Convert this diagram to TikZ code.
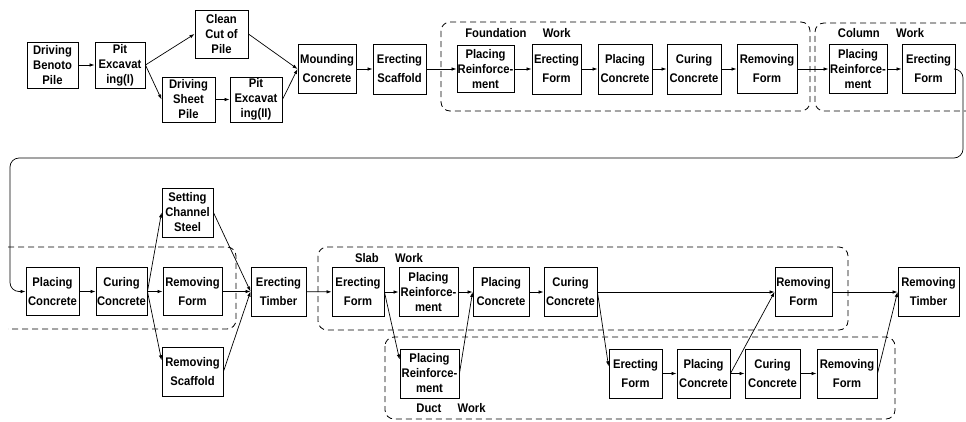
\documentclass[tikz,border=0pt]{standalone}
\usepackage{fontspec}
\setmainfont{Liberation Sans}[FakeStretch=0.9]
\usetikzlibrary{arrows.meta}
\begin{document}
\begin{tikzpicture}[x=1pt,y=-1pt,
  box/.style={draw, line width=0.9pt, inner sep=0pt, align=center, font=\bfseries\fontsize{12.5}{15}\selectfont},
  box2/.style={box, font=\bfseries\fontsize{12.5}{19}\selectfont},
  arr/.style={line width=0.7pt, -{Latex[length=5pt,width=3.5pt]}},
  dbox/.style={line width=0.8pt, dash pattern=on 6pt off 4pt, rounded corners=9pt},
  lbl/.style={font=\bfseries\fontsize{12.5}{14}\selectfont, inner sep=0pt}]
\useasboundingbox (0,0) rectangle (966,421);

% dashed group boxes
\draw[dbox] (441,22) rectangle (810,111);
\draw[dbox] (966,23) -- (815,23) -- (815,111) -- (966,111);
\draw[dbox] (8,247) -- (236,247) -- (236,329) -- (8,329);
\draw[dbox] (318,247) rectangle (848,330);
\draw[dbox] (385,337) rectangle (895,419);

\node[lbl] (lf) at (518,33) {Foundation\hspace{1.3em}Work};
\node[lbl] (lc) at (881,33) {Column\hspace{1.3em}Work};
\node[lbl] (ls) at (389,258) {Slab\hspace{1.3em}Work};
\node[lbl] (ld) at (451,408) {Duct\hspace{1.3em}Work};

% top row
\node[box,minimum width=51pt,minimum height=46pt] (dbp) at (52.5,65) {Driving\\Benoto\\Pile};
\node[box,minimum width=50pt,minimum height=46pt] (pe1) at (120,65) {Pit\\Excavat\\ing(I)};
\node[box,minimum width=53pt,minimum height=48pt] (ccp) at (221.5,34) {Clean\\Cut of\\Pile};
\node[box,minimum width=53pt,minimum height=45pt] (dsp) at (188.5,99.5) {Driving\\Sheet\\Pile};
\node[box,minimum width=52pt,minimum height=45pt] (pe2) at (256,99.5) {Pit\\Excavat\\ing(II)};
\node[box2,minimum width=58pt,minimum height=49pt] (mc) at (327,69) {Mounding\\Concrete};
\node[box2,minimum width=53pt,minimum height=50pt] (es) at (399.5,69) {Erecting\\Scaffold};
\node[box,minimum width=57pt,minimum height=47pt] (prf) at (485.5,69) {Placing\\Reinforce-\\ment};
\node[box2,minimum width=49pt,minimum height=50pt] (eff) at (556.5,69) {Erecting\\Form};
\node[box2,minimum width=54pt,minimum height=50pt] (pcf) at (625,69) {Placing\\Concrete};
\node[box2,minimum width=54pt,minimum height=50pt] (ccf) at (694,69) {Curing\\Concrete};
\node[box2,minimum width=60pt,minimum height=49pt] (rff) at (767,69) {Removing\\Form};
\node[box,minimum width=58pt,minimum height=49pt] (prc) at (858,69) {Placing\\Reinforce-\\ment};
\node[box2,minimum width=53pt,minimum height=49pt] (efc) at (928.5,69) {Erecting\\Form};

% bottom rows
\node[box2,minimum width=53pt,minimum height=48pt] (pcc) at (52.5,291.5) {Placing\\Concrete};
\node[box2,minimum width=51pt,minimum height=48pt] (ccc) at (121.5,291.5) {Curing\\Concrete};
\node[box2,minimum width=59pt,minimum height=48pt] (rfc) at (192.5,291.5) {Removing\\Form};
\node[box,minimum width=51pt,minimum height=49pt] (scs) at (187.5,212.5) {Setting\\Channel\\Steel};
\node[box2,minimum width=61pt,minimum height=49pt] (rs) at (192.5,371.5) {Removing\\Scaffold};
\node[box2,minimum width=55pt,minimum height=49pt] (et) at (278.5,291.5) {Erecting\\Timber};
\node[box2,minimum width=52pt,minimum height=49pt] (efs) at (358,292) {Erecting\\Form};
\node[box,minimum width=59pt,minimum height=49pt] (prs) at (428.5,292) {Placing\\Reinforce-\\ment};
\node[box2,minimum width=56pt,minimum height=49pt] (pcs) at (501,292) {Placing\\Concrete};
\node[box2,minimum width=53pt,minimum height=49pt] (ccs) at (570.5,292) {Curing\\Concrete};
\node[box2,minimum width=57pt,minimum height=49pt] (rfs) at (803.5,292) {Removing\\Form};
\node[box2,minimum width=61pt,minimum height=49pt] (rt) at (928.5,292) {Removing\\Timber};
\node[box,minimum width=59pt,minimum height=49pt] (prd) at (429.5,373.5) {Placing\\Reinforce-\\ment};
\node[box2,minimum width=53pt,minimum height=49pt] (efl) at (635.5,373.5) {Erecting\\Form};
\node[box2,minimum width=53pt,minimum height=49pt] (pcl) at (703.5,373.5) {Placing\\Concrete};
\node[box2,minimum width=55pt,minimum height=49pt] (ccl) at (772.5,373.5) {Curing\\Concrete};
\node[box2,minimum width=60pt,minimum height=49pt] (rfl) at (847,373.5) {Removing\\Form};

% connectors top
\draw[arr] (dbp) -- (pe1);
\draw[arr] (pe1.east) -- (ccp.west);
\draw[arr] (pe1.east) -- (dsp.west);
\draw[arr] (dsp) -- (pe2);
\draw[arr] (ccp.east) -- (mc.west);
\draw[arr] (pe2.east) -- (mc.west);
\draw[arr] (mc) -- (es);
\draw[arr] (es) -- (prf);
\draw[arr] (prf) -- (eff);
\draw[arr] (eff) -- (pcf);
\draw[arr] (pcf) -- (ccf);
\draw[arr] (ccf) -- (rff);
\draw[arr] (rff) -- (prc);
\draw[arr] (prc) -- (efc);
\coordinate (ra) at (963,158);
\coordinate (rb) at (10,158);
\draw[arr, rounded corners=9pt] (efc.east) -- (efc.east -| ra) -- (ra) -- (rb) -- (rb |- pcc.west) -- (pcc.west);

% connectors bottom
\draw[arr] (pcc) -- (ccc);
\draw[arr] (ccc) -- (rfc);
\draw[arr] (ccc.east) -- (scs.west);
\draw[arr] (ccc.east) -- (rs.160);
\draw[arr] (scs.east) -- (et.west);
\draw[arr] (rfc) -- (et);
\draw[arr] (rs.east) -- (et.west);
\draw[arr] (et) -- (efs);
\draw[arr] (efs) -- (prs);
\draw[arr] (efs.east) -- (prd.155);
\draw[arr] (prs) -- (pcs);
\draw[arr] (prd.east) -- (pcs.west);
\draw[arr] (pcs) -- (ccs);
\draw[arr] (ccs) -- (rfs);
\draw[arr] (ccs.east) -- (efl.165);
\draw[arr] (efl) -- (pcl);
\draw[arr] (pcl.east) -- (rfs.west);
\draw[arr] (pcl) -- (ccl);
\draw[arr] (ccl) -- (rfl);
\draw[arr] (rfs) -- (rt);
\draw[arr] (rfl.east) -- (rt.west);
\end{tikzpicture}
\end{document}
